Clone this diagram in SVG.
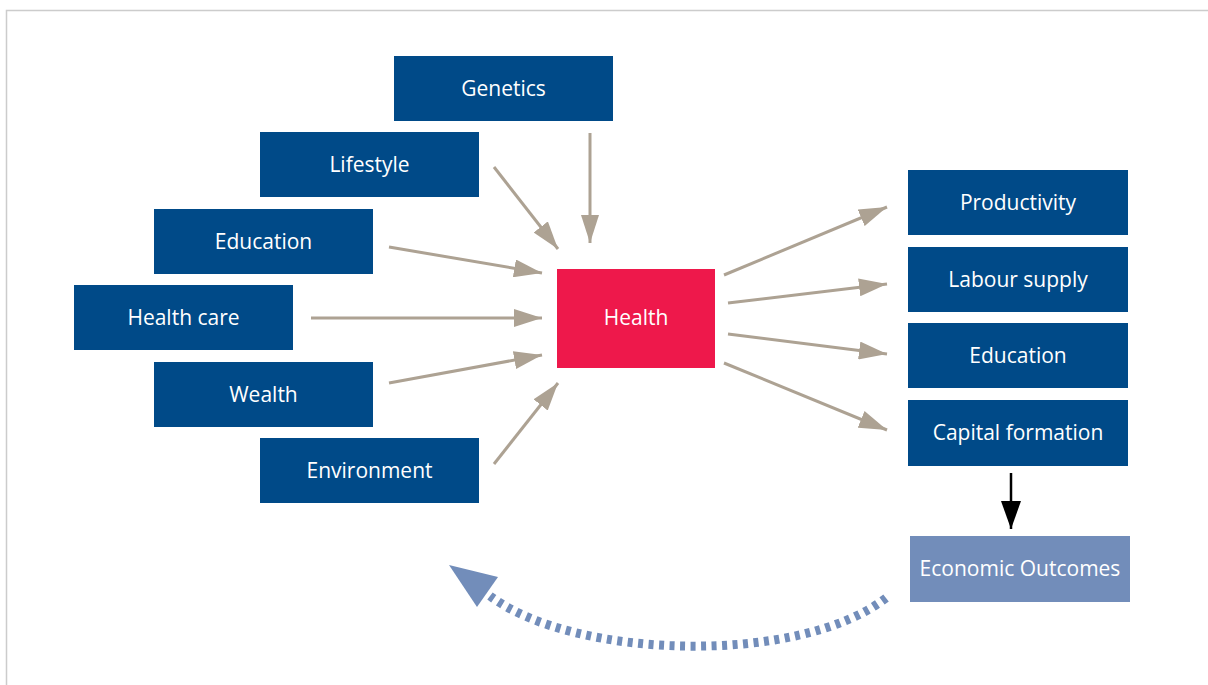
<svg xmlns="http://www.w3.org/2000/svg" width="1208" height="685" viewBox="0 0 1208 685">
<style>
.b{fill:#004a88}
.t{fill:#fff;font-family:"Open Sans","Liberation Sans",sans-serif;font-size:21px;text-anchor:middle;dominant-baseline:central}
.c{stroke:#ada293;stroke-width:3;fill:none}
</style>
<defs>
<marker id="g" viewBox="0 0 28 18" refX="28" refY="9" markerWidth="28" markerHeight="18" markerUnits="userSpaceOnUse" orient="auto">
<path d="M0,0 L28,9 L0,18 z" fill="#ada293"/>
</marker>
<marker id="k" viewBox="0 0 28 20" refX="28" refY="10" markerWidth="28" markerHeight="20" markerUnits="userSpaceOnUse" orient="auto">
<path d="M0,0 L28,10 L0,20 z" fill="#000"/>
</marker>
</defs>
<rect x="6.5" y="10.5" width="1210" height="690" fill="#fff" stroke="#cccccc" stroke-width="1.5"/>
<g id="connectors">
<line class="c" x1="590" y1="133" x2="590" y2="243" marker-end="url(#g)"/>
<line class="c" x1="494" y1="167" x2="558" y2="249" marker-end="url(#g)"/>
<line class="c" x1="389" y1="247" x2="542" y2="273" marker-end="url(#g)"/>
<line class="c" x1="311" y1="318" x2="542" y2="318" marker-end="url(#g)"/>
<line class="c" x1="389" y1="383" x2="542" y2="355" marker-end="url(#g)"/>
<line class="c" x1="494" y1="464" x2="558" y2="383" marker-end="url(#g)"/>
<line class="c" x1="724" y1="275" x2="887" y2="207" marker-end="url(#g)"/>
<line class="c" x1="728" y1="303" x2="887" y2="284" marker-end="url(#g)"/>
<line class="c" x1="728" y1="334" x2="887" y2="354" marker-end="url(#g)"/>
<line class="c" x1="724" y1="363" x2="887" y2="430" marker-end="url(#g)"/>
<line x1="1011" y1="473" x2="1011" y2="529" stroke="#000" stroke-width="2.5" marker-end="url(#k)"/>
<path d="M886,598 C800,665 575,660 490,596" fill="none" stroke="#728dba" stroke-width="9" stroke-dasharray="5 5.5"/>
<polygon points="449,565 498,577 477,607" fill="#728dba"/>
</g>
<g id="genetics"><rect class="b" x="394" y="56" width="219" height="65"/><text class="t" x="503.5" y="88">Genetics</text></g>
<g id="lifestyle"><rect class="b" x="260" y="132" width="219" height="65"/><text class="t" x="369.5" y="164">Lifestyle</text></g>
<g id="education-in"><rect class="b" x="154" y="209" width="219" height="65"/><text class="t" x="263.5" y="241">Education</text></g>
<g id="healthcare"><rect class="b" x="74" y="285" width="219" height="65"/><text class="t" x="183.5" y="317">Health care</text></g>
<g id="wealth"><rect class="b" x="154" y="362" width="219" height="65"/><text class="t" x="263.5" y="394">Wealth</text></g>
<g id="environment"><rect class="b" x="260" y="438" width="219" height="65"/><text class="t" x="369.5" y="470">Environment</text></g>
<g id="health"><rect x="557" y="269" width="158" height="99" fill="#ee184b"/><text class="t" x="636" y="317">Health</text></g>
<g id="productivity"><rect class="b" x="908" y="170" width="220" height="65"/><text class="t" x="1018" y="202">Productivity</text></g>
<g id="labour"><rect class="b" x="908" y="247" width="220" height="65"/><text class="t" x="1018" y="279">Labour supply</text></g>
<g id="education-out"><rect class="b" x="908" y="323" width="220" height="65"/><text class="t" x="1018" y="355">Education</text></g>
<g id="capital"><rect class="b" x="908" y="400" width="220" height="66"/><text class="t" x="1018" y="432">Capital formation</text></g>
<g id="economic"><rect x="910" y="536" width="220" height="66" fill="#728dba"/><text class="t" x="1020" y="568">Economic Outcomes</text></g>
</svg>
